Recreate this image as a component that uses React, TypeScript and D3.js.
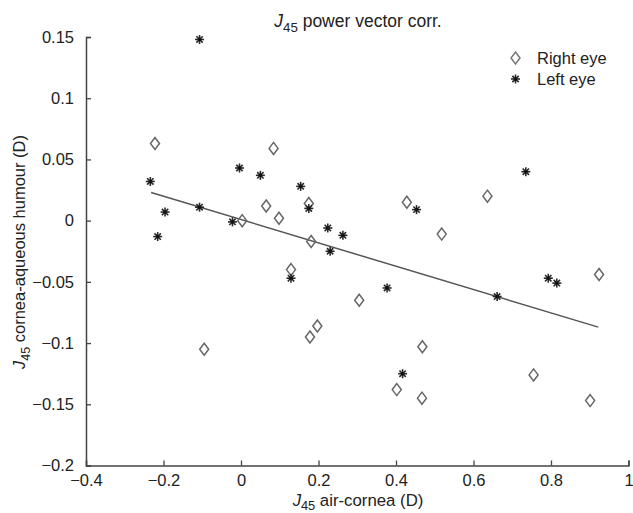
import React, { useEffect, useRef } from 'react';
import * as d3 from 'd3';

// right eye (diamonds)
const rightX = [-0.222, 0.084, 0.065, 0.003, 0.098, 0.175, 0.181, 0.428, 0.636, 0.518, 0.129, -0.095, 0.178, 0.197, 0.305, 0.468, 0.402, 0.467, 0.755, 0.901, 0.924];
const rightY = [0.063, 0.059, 0.012, 0.0, 0.002, 0.014, -0.017, 0.015, 0.020, -0.011, -0.040, -0.105, -0.095, -0.086, -0.065, -0.103, -0.138, -0.145, -0.126, -0.147, -0.044];

// left eye (stars)
const leftX = [-0.107, -0.234, -0.004, 0.05, 0.154, 0.175, -0.196, -0.107, -0.022, -0.215, 0.224, 0.263, 0.230, 0.453, 0.735, 0.129, 0.377, 0.417, 0.661, 0.793, 0.815];
const leftY = [0.148, 0.032, 0.043, 0.037, 0.028, 0.010, 0.007, 0.011, -0.001, -0.013, -0.006, -0.012, -0.025, 0.009, 0.040, -0.047, -0.055, -0.125, -0.062, -0.047, -0.051];

// regression line end points
const fitX = [-0.232, 0.922];
const fitY = [0.023, -0.087];

const xTicks = [-0.4, -0.2, 0, 0.2, 0.4, 0.6, 0.8, 1];
const yTicks = [-0.2, -0.15, -0.1, -0.05, 0, 0.05, 0.1, 0.15];

const FONT = '"Liberation Sans", Arial, sans-serif';
const fmt = (v: number) => (v < 0 ? '\u2212' + String(Math.abs(v)) : String(v));

const App = () => {
  const svgRef = useRef<SVGSVGElement>(null);

  useEffect(() => {
    const svg = d3.select(svgRef.current)
      .attr('width', 633)
      .attr('height', 513);
    svg.selectAll('*').remove();

    const x = d3.scaleLinear().domain([-0.4, 1]).range([86, 628.5]);
    const y = d3.scaleLinear().domain([-0.2, 0.15]).range([465.5, 37]);

    svg.append('rect').attr('width', 633).attr('height', 513).attr('fill', '#fff');

    // axes (box off, inward ticks)
    const xAxis = svg.append('g')
      .attr('transform', `translate(0, ${y(-0.2)})`)
      .call(d3.axisBottom(x).tickValues(xTicks).tickSize(-5).tickPadding(9).tickFormat(d => fmt(+d)));
    const yAxis = svg.append('g')
      .attr('transform', `translate(${x(-0.4)}, 0)`)
      .call(d3.axisLeft(y).tickValues(yTicks).tickSize(-5).tickPadding(12).tickFormat(d => fmt(+d)));

    [xAxis, yAxis].forEach(g => {
      g.select('.domain').attr('stroke', '#444').attr('stroke-width', 1.5);
      g.selectAll('.tick line').attr('stroke', '#444').attr('stroke-width', 1.3);
      g.selectAll('.tick text')
        .attr('fill', '#222')
        .style('font-family', FONT)
        .style('font-size', '16.5px');
    });

    // regression line
    svg.append('line')
      .attr('x1', x(fitX[0])).attr('y1', y(fitY[0]))
      .attr('x2', x(fitX[1])).attr('y2', y(fitY[1]))
      .attr('stroke', '#555')
      .attr('stroke-width', 1.5);

    const diamond = (cx: number, cy: number) =>
      `M${cx},${cy - 6}L${cx + 4.5},${cy}L${cx},${cy + 6}L${cx - 4.5},${cy}Z`;

    const star = (g: any, cx: number, cy: number) => {
      const r = 4.5;
      const spokes = g.append('g').attr('transform', `translate(${cx},${cy})`);
      for (let k = 0; k < 4; k++) {
        const a = (k * Math.PI) / 4;
        spokes.append('line')
          .attr('x1', -r * Math.cos(a)).attr('y1', -r * Math.sin(a))
          .attr('x2', r * Math.cos(a)).attr('y2', r * Math.sin(a))
          .attr('stroke', '#2a2a2a')
          .attr('stroke-width', 1.6);
      }
      spokes.append('circle').attr('r', 1.8).attr('fill', '#111');
    };

    // right eye diamonds
    svg.append('g')
      .selectAll('path')
      .data(d3.range(rightX.length))
      .enter()
      .append('path')
      .attr('d', i => diamond(x(rightX[i]), y(rightY[i])))
      .attr('fill', 'none')
      .attr('stroke', '#666')
      .attr('stroke-width', 1.5);

    // left eye stars
    const stars = svg.append('g');
    leftX.forEach((v, i) => star(stars, x(v), y(leftY[i])));

    // legend
    svg.append('path')
      .attr('d', diamond(515.5, 58))
      .attr('fill', 'none')
      .attr('stroke', '#777')
      .attr('stroke-width', 1.5);
    star(svg, 515.5, 79);
    svg.append('text')
      .attr('x', 537).attr('y', 64)
      .text('Right eye')
      .attr('fill', '#222')
      .style('font-family', FONT)
      .style('font-size', '16.5px');
    svg.append('text')
      .attr('x', 537).attr('y', 85)
      .text('Left eye')
      .attr('fill', '#222')
      .style('font-family', FONT)
      .style('font-size', '16.5px');

    // title & axis labels
    const label = (tx: number, ty: number, rest: string, size: number, rotate = false) => {
      const t = svg.append('text')
        .attr('text-anchor', 'middle')
        .attr('fill', '#222')
        .style('font-family', FONT)
        .style('font-size', `${size}px`);
      if (rotate) t.attr('transform', `translate(${tx},${ty}) rotate(-90)`);
      else t.attr('transform', `translate(${tx},${ty})`);
      t.append('tspan').style('font-style', 'italic').text('J');
      t.append('tspan').attr('dy', 4.5).style('font-size', `${size * 0.76}px`).text('45');
      t.append('tspan').attr('dy', -4.5).text(rest);
    };
    label(358, 27, ' power vector corr.', 17.5);
    label(358, 505.5, ' air-cornea (D)', 16.8);
    label(25, 252, ' cornea-aqueous humour (D)', 16.5, true);
  }, []);

  return <svg ref={svgRef} style={{ position: 'absolute', left: 0, top: 0 }}></svg>;
};

export default App;
